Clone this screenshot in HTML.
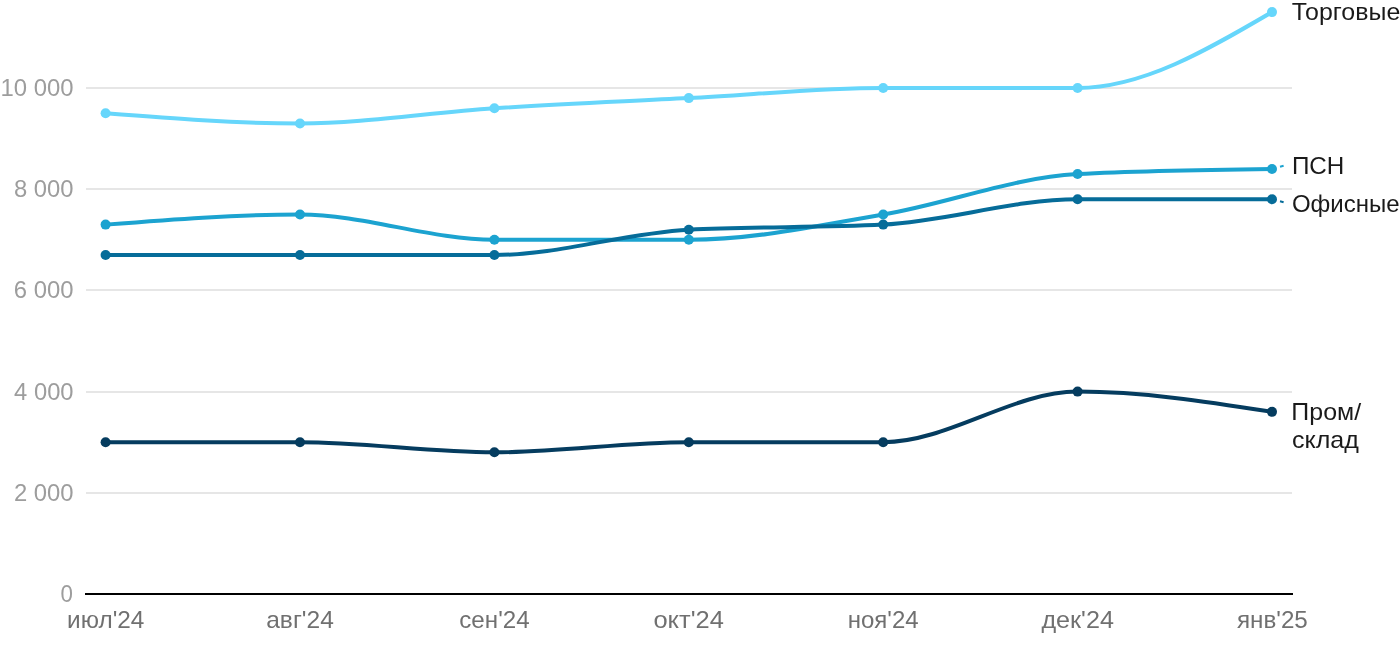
<!DOCTYPE html>
<html><head><meta charset="utf-8"><style>
html,body{margin:0;padding:0;background:#fff;}
body{width:1400px;height:650px;overflow:hidden;position:relative;}
svg{position:absolute;left:0;top:0;will-change:transform;font-family:"Liberation Sans",sans-serif;font-size:24px;}
</style></head><body>
<svg width="1400" height="650" viewBox="0 0 1400 650">
<rect x="86" y="87" width="1206" height="2" fill="#e6e6e6"/>
<rect x="86" y="188" width="1206" height="2" fill="#e6e6e6"/>
<rect x="86" y="289" width="1206" height="2" fill="#e6e6e6"/>
<rect x="86" y="391" width="1206" height="2" fill="#e6e6e6"/>
<rect x="86" y="492" width="1206" height="2" fill="#e6e6e6"/>
<rect x="85" y="593" width="1208" height="2" fill="#000"/>
<path d="M105.60,113.30 C170.40,118.36 235.20,123.42 300.00,123.42 C364.80,123.42 429.60,112.46 494.40,108.24 C559.20,104.02 624.00,101.49 688.80,98.12 C753.60,94.75 818.40,88.00 883.20,88.00 C948.00,88.00 1012.80,88.00 1077.60,88.00 C1142.40,88.00 1207.20,50.05 1272.00,12.10" fill="none" stroke="#66d6fb" stroke-width="4.00" stroke-linecap="round" stroke-linejoin="round"/>
<circle cx="105.60" cy="113.30" r="5.00" fill="#66d6fb"/>
<circle cx="300.00" cy="123.42" r="5.00" fill="#66d6fb"/>
<circle cx="494.40" cy="108.24" r="5.00" fill="#66d6fb"/>
<circle cx="688.80" cy="98.12" r="5.00" fill="#66d6fb"/>
<circle cx="883.20" cy="88.00" r="5.00" fill="#66d6fb"/>
<circle cx="1077.60" cy="88.00" r="5.00" fill="#66d6fb"/>
<circle cx="1272.00" cy="12.10" r="5.00" fill="#66d6fb"/>
<path d="M105.60,224.62 C170.40,219.56 235.20,214.50 300.00,214.50 C364.80,214.50 429.60,239.80 494.40,239.80 C559.20,239.80 624.00,239.80 688.80,239.80 C753.60,239.80 818.40,225.46 883.20,214.50 C948.00,203.54 1012.80,177.39 1077.60,174.02 C1142.40,170.65 1207.20,169.80 1272.00,168.96" fill="none" stroke="#1ca3d0" stroke-width="4.00" stroke-linecap="round" stroke-linejoin="round"/>
<circle cx="105.60" cy="224.62" r="5.00" fill="#1ca3d0"/>
<circle cx="300.00" cy="214.50" r="5.00" fill="#1ca3d0"/>
<circle cx="494.40" cy="239.80" r="5.00" fill="#1ca3d0"/>
<circle cx="688.80" cy="239.80" r="5.00" fill="#1ca3d0"/>
<circle cx="883.20" cy="214.50" r="5.00" fill="#1ca3d0"/>
<circle cx="1077.60" cy="174.02" r="5.00" fill="#1ca3d0"/>
<circle cx="1272.00" cy="168.96" r="5.00" fill="#1ca3d0"/>
<path d="M105.60,254.98 C170.40,254.98 235.20,254.98 300.00,254.98 C364.80,254.98 429.60,254.98 494.40,254.98 C559.20,254.98 624.00,233.05 688.80,229.68 C753.60,226.31 818.40,227.99 883.20,224.62 C948.00,221.25 1012.80,199.32 1077.60,199.32 C1142.40,199.32 1207.20,199.32 1272.00,199.32" fill="none" stroke="#066c99" stroke-width="4.00" stroke-linecap="round" stroke-linejoin="round"/>
<circle cx="105.60" cy="254.98" r="5.00" fill="#066c99"/>
<circle cx="300.00" cy="254.98" r="5.00" fill="#066c99"/>
<circle cx="494.40" cy="254.98" r="5.00" fill="#066c99"/>
<circle cx="688.80" cy="229.68" r="5.00" fill="#066c99"/>
<circle cx="883.20" cy="224.62" r="5.00" fill="#066c99"/>
<circle cx="1077.60" cy="199.32" r="5.00" fill="#066c99"/>
<circle cx="1272.00" cy="199.32" r="5.00" fill="#066c99"/>
<path d="M105.60,442.20 C170.40,442.20 235.20,442.20 300.00,442.20 C364.80,442.20 429.60,452.32 494.40,452.32 C559.20,452.32 624.00,442.20 688.80,442.20 C753.60,442.20 818.40,442.20 883.20,442.20 C948.00,442.20 1012.80,391.60 1077.60,391.60 C1142.40,391.60 1207.20,401.72 1272.00,411.84" fill="none" stroke="#053c5f" stroke-width="4.00" stroke-linecap="round" stroke-linejoin="round"/>
<circle cx="105.60" cy="442.20" r="5.00" fill="#053c5f"/>
<circle cx="300.00" cy="442.20" r="5.00" fill="#053c5f"/>
<circle cx="494.40" cy="452.32" r="5.00" fill="#053c5f"/>
<circle cx="688.80" cy="442.20" r="5.00" fill="#053c5f"/>
<circle cx="883.20" cy="442.20" r="5.00" fill="#053c5f"/>
<circle cx="1077.60" cy="391.60" r="5.00" fill="#053c5f"/>
<circle cx="1272.00" cy="411.84" r="5.00" fill="#053c5f"/>
<line x1="1280" y1="166.8" x2="1283.6" y2="165.8" stroke="#1ca3d0" stroke-width="2"/>
<line x1="1280" y1="201.3" x2="1283.6" y2="202.3" stroke="#066c99" stroke-width="2"/>
<text id="y0" x="60.56" y="602.00" fill="#9d9d9d" textLength="12.43" lengthAdjust="spacingAndGlyphs">0</text>
<text id="y2000" x="13.90" y="501.00" fill="#9d9d9d" textLength="59.71" lengthAdjust="spacingAndGlyphs">2&#160;000</text>
<text id="y4000" x="14.12" y="400.00" fill="#9d9d9d" textLength="59.48" lengthAdjust="spacingAndGlyphs">4&#160;000</text>
<text id="y6000" x="13.84" y="298.00" fill="#9d9d9d" textLength="59.76" lengthAdjust="spacingAndGlyphs">6&#160;000</text>
<text id="y8000" x="14.00" y="197.00" fill="#9d9d9d" textLength="59.60" lengthAdjust="spacingAndGlyphs">8&#160;000</text>
<text id="y10000" x="0.50" y="96.00" fill="#9d9d9d" textLength="73.10" lengthAdjust="spacingAndGlyphs">10&#160;000</text>
<text id="x0" x="67.09" y="627.60" fill="#707070" textLength="77.30" lengthAdjust="spacingAndGlyphs">июл'24</text>
<text id="x1" x="266.21" y="627.60" fill="#707070" textLength="67.62" lengthAdjust="spacingAndGlyphs">авг'24</text>
<text id="x2" x="459.31" y="627.60" fill="#707070" textLength="70.31" lengthAdjust="spacingAndGlyphs">сен'24</text>
<text id="x3" x="653.42" y="627.60" fill="#707070" textLength="70.39" lengthAdjust="spacingAndGlyphs">окт'24</text>
<text id="x4" x="847.76" y="627.60" fill="#707070" textLength="70.86" lengthAdjust="spacingAndGlyphs">ноя'24</text>
<text id="x5" x="1041.41" y="627.60" fill="#707070" textLength="72.48" lengthAdjust="spacingAndGlyphs">дек'24</text>
<text id="x6" x="1236.93" y="627.60" fill="#707070" textLength="70.88" lengthAdjust="spacingAndGlyphs">янв'25</text>
<text id="s0" x="1291.82" y="19.90" fill="#1a1a1a" textLength="108.46" lengthAdjust="spacingAndGlyphs">Торговые</text>
<text id="s1" x="1291.92" y="173.70" fill="#1a1a1a" textLength="52.42" lengthAdjust="spacingAndGlyphs">ПСН</text>
<text id="s2" x="1291.94" y="211.60" fill="#1a1a1a" textLength="107.62" lengthAdjust="spacingAndGlyphs">Офисные</text>
<text id="s3" x="1291.39" y="419.60" fill="#1a1a1a" textLength="69.70" lengthAdjust="spacingAndGlyphs">Пром/</text>
<text id="s4" x="1291.95" y="447.70" fill="#1a1a1a" textLength="66.89" lengthAdjust="spacingAndGlyphs">склад</text>
</svg>
</body></html>
